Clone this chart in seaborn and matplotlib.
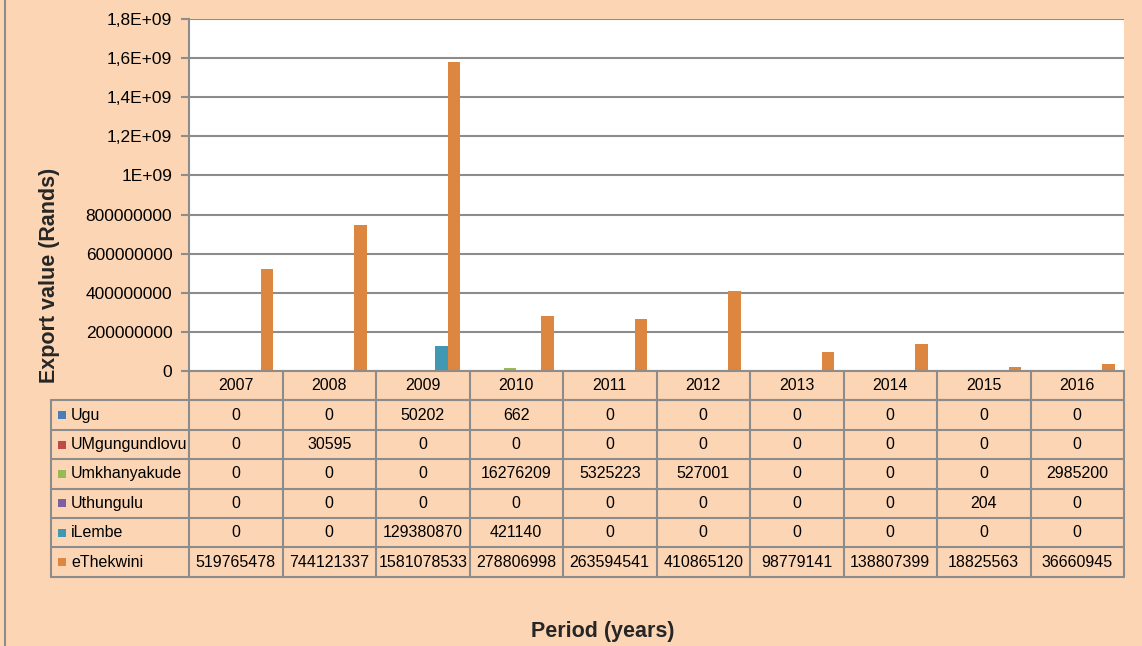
import numpy as np
import pandas as pd
import matplotlib
matplotlib.use("Agg")
import matplotlib.pyplot as plt
import matplotlib.transforms as mtransforms
import seaborn as sns

# data
years = ["2007", "2008", "2009", "2010", "2011", "2012", "2013", "2014", "2015", "2016"]
districts = ["Ugu", "UMgungundlovu", "Umkhanyakude", "Uthungulu", "iLembe", "eThekwini"]
ugu = [0, 0, 50202, 662, 0, 0, 0, 0, 0, 0]
umgungundlovu = [0, 30595, 0, 0, 0, 0, 0, 0, 0, 0]
umkhanyakude = [0, 0, 0, 16276209, 5325223, 527001, 0, 0, 0, 2985200]
uthungulu = [0, 0, 0, 0, 0, 0, 0, 0, 204, 0]
ilembe = [0, 0, 129380870, 421140, 0, 0, 0, 0, 0, 0]
ethekwini = [519765478, 744121337, 1581078533, 278806998, 263594541,
             410865120, 98779141, 138807399, 18825563, 36660945]
colors = ["#4A7EBB", "#BE4B48", "#98B954", "#7D60A0", "#4198B2", "#DD8640"]
yticks = [0, 2e8, 4e8, 6e8, 8e8, 1e9, 1.2e9, 1.4e9, 1.6e9, 1.8e9]
ytick_labels = ["0", "200000000", "400000000", "600000000", "800000000",
                "1E+09", "1,2E+09", "1,4E+09", "1,6E+09", "1,8E+09"]

series = [ugu, umgungundlovu, umkhanyakude, uthungulu, ilembe, ethekwini]
df = pd.DataFrame({
    "year": years * len(districts),
    "district": np.repeat(districts, len(years)),
    "value": np.concatenate(series),
})

sns.set_theme(style="white")
plt.rcParams["font.family"] = ["Liberation Sans", "DejaVu Sans"]

bg = "#FCD5B4"
grid_c = "#8C8C8C"
fig = plt.figure(figsize=(11.42, 6.46), dpi=100, facecolor=bg)
ax = fig.add_axes([189 / 1142, 1 - 371 / 646, 935 / 1142, 352 / 646])
ax.set_facecolor("white")

sns.barplot(data=df, x="year", y="value", hue="district", order=years,
            hue_order=districts, palette=colors, width=0.8, ax=ax,
            legend=False, saturation=1, linewidth=0)

ax.set_xlim(-0.5, len(years) - 0.5)
ax.set_ylim(0, 1.8e9)
ax.set_yticks(yticks)
ax.set_yticklabels(ytick_labels, fontsize=12.5, color="black")
ax.yaxis.grid(True, color=grid_c, linewidth=1.5)
ax.set_axisbelow(True)
ax.tick_params(axis="y", length=6, width=1.5, color=grid_c, left=True, pad=6)
ax.tick_params(axis="x", bottom=False, labelbottom=False)
for side in ["top", "right"]:
    ax.spines[side].set_visible(False)
for side in ["left", "bottom"]:
    ax.spines[side].set_color(grid_c)
    ax.spines[side].set_linewidth(1.5)
ax.set_xlabel("")
ax.set_ylabel("")

# data table under the plot
tr = mtransforms.blended_transform_factory(ax.transData, ax.transAxes)
row_h = 29.4 / 352
label_left = -0.5 - 138 / 93.5
n_rows = len(districts) + 1
bottom = -row_h * n_rows
lw = 1.5

def hline(x0, x1, y):
    ax.plot([x0, x1], [y, y], color=grid_c, lw=lw, transform=tr, clip_on=False)

def vline(x, y0, y1):
    ax.plot([x, x], [y0, y1], color=grid_c, lw=lw, transform=tr, clip_on=False)

# header row with years
hline(-0.5, len(years) - 0.5, -row_h)
for i, yr in enumerate(years):
    ax.text(i, -row_h / 2, yr, transform=tr, ha="center", va="center",
            fontsize=11.5, color="black")
for i in range(len(years) + 1):
    vline(i - 0.5, 0, bottom)
vline(label_left, -row_h, bottom)
hline(label_left, len(years) - 0.5, bottom)

for r, (name, vals, c) in enumerate(zip(districts, series, colors)):
    top = -row_h * (r + 1)
    mid = top - row_h / 2
    hline(label_left, len(years) - 0.5, top)
    ax.scatter([label_left + 10.5 / 93.5], [mid], marker="s", s=40, color=c,
               transform=tr, clip_on=False, linewidths=0)
    ax.text(label_left + 20 / 93.5, mid, name, transform=tr, ha="left",
            va="center", fontsize=11.5, color="black")
    for i, v in enumerate(vals):
        ax.text(i, mid, str(v), transform=tr, ha="center", va="center",
                fontsize=11.5, color="black")

# axis titles
fig.text(50 / 1142, 1 - 275 / 646, "Export value (Rands)", rotation=90,
         ha="center", va="center", fontsize=15.5, fontweight="bold")
fig.text(603 / 1142, 1 - 632 / 646, "Period (years)", ha="center",
         va="center", fontsize=15.5, fontweight="bold")

# chart area border
fig.add_artist(plt.Line2D([5 / 1142, 5 / 1142], [0, 1], color=grid_c,
                          lw=1.5, transform=fig.transFigure))

fig.savefig("out.png", dpi=100, facecolor=bg)
